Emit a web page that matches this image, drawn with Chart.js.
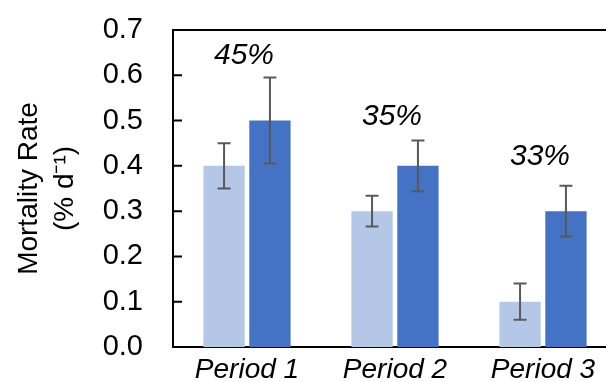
<!DOCTYPE html>
<html>
<head>
  <title>Mortality Rate</title>
  <script src="https://cdn.jsdelivr.net/npm/chart.js"></script>
  <style>
    html, body { margin: 0; padding: 0; background: #fff; overflow: hidden; }
  </style>
</head>
<body>
  <canvas id="chart" width="630" height="382"></canvas>

  <script>
    // data
    const periods = ["Period 1", "Period 2", "Period 3"];
    const lightValues = [0.4, 0.3, 0.1];
    const lightErrors = [0.05, 0.034, 0.04];
    const darkValues = [0.5, 0.4, 0.3];
    const darkErrors = [0.095, 0.056, 0.056];
    const diffLabels = ["45%", "35%", "33%"];
    const diffLabelY = [0.643, 0.508, 0.42];
    const yTicks = [0.0, 0.1, 0.2, 0.3, 0.4, 0.5, 0.6, 0.7];

    const FONT = "'Liberation Sans', Arial, sans-serif";

    // error bars on top of each bar
    const errorBars = {
      id: "errorBars",
      afterDatasetsDraw(chart) {
        const ctx = chart.ctx;
        const y = chart.scales.y;
        const errs = [lightErrors, darkErrors];
        ctx.save();
        ctx.strokeStyle = "#595959";
        ctx.lineWidth = 2;
        chart.data.datasets.forEach((ds, d) => {
          const meta = chart.getDatasetMeta(d);
          meta.data.forEach((bar, j) => {
            const v = ds.data[j], e = errs[d][j];
            const top = y.getPixelForValue(v + e);
            const bot = y.getPixelForValue(v - e);
            ctx.beginPath();
            ctx.moveTo(bar.x, top); ctx.lineTo(bar.x, bot);
            ctx.moveTo(bar.x - 6.5, top); ctx.lineTo(bar.x + 6.5, top);
            ctx.moveTo(bar.x - 6.5, bot); ctx.lineTo(bar.x + 6.5, bot);
            ctx.stroke();
          });
        });
        ctx.restore();
      }
    };

    // top frame line, inside ticks and the percentage labels
    const extras = {
      id: "extras",
      afterDraw(chart) {
        const ctx = chart.ctx;
        const area = chart.chartArea;
        const x = chart.scales.x, y = chart.scales.y;
        ctx.save();
        ctx.strokeStyle = "#000";
        ctx.lineWidth = 2;
        ctx.beginPath();
        ctx.moveTo(area.left - 1, area.top);
        ctx.lineTo(chart.width, area.top);
        yTicks.forEach(v => {
          const py = y.getPixelForValue(v);
          ctx.moveTo(area.left, py);
          ctx.lineTo(area.left + 9, py);
        });
        ctx.stroke();

        ctx.fillStyle = "#000";
        ctx.font = "italic 30px " + FONT;
        ctx.textAlign = "center";
        ctx.textBaseline = "middle";
        diffLabels.forEach((t, i) => {
          ctx.fillText(t, x.getPixelForValue(i) - 3, y.getPixelForValue(diffLabelY[i]));
        });
        ctx.restore();
      }
    };

    new Chart(document.getElementById("chart"), {
      type: "bar",
      data: {
        labels: periods,
        datasets: [
          { label: "A", data: lightValues, backgroundColor: "#b4c7e7" },
          { label: "B", data: darkValues, backgroundColor: "#4472c4" }
        ]
      },
      options: {
        responsive: false,
        animation: false,
        categoryPercentage: 0.62,
        barPercentage: 0.9,
        layout: { padding: { top: 30, right: 13, left: 0, bottom: 0 } },
        plugins: { legend: { display: false }, tooltip: { enabled: false } },
        scales: {
          x: {
            z: 1,
            grid: { display: false, drawTicks: false },
            border: { display: true, color: "#000", width: 2 },
            ticks: {
              color: "#000",
              padding: 6,
              font: { family: FONT, size: 28, style: "italic" }
            },
            afterFit: s => {
              s.height = 35;
              s.paddingLeft = 0;
              s.paddingRight = 0;
            }
          },
          y: {
            z: 1,
            min: 0,
            max: 0.7,
            grid: { display: false, drawTicks: false },
            border: { display: true, color: "#000", width: 2 },
            afterBuildTicks: s => { s.ticks = yTicks.map(v => ({ value: v })); },
            ticks: {
              color: "#000",
              padding: 30,
              font: { family: FONT, size: 29 },
              callback: v => v.toFixed(1)
            },
            title: {
              display: true,
              text: ["Mortality Rate", "(% d\u207B\u00B9)"],
              color: "#000",
              padding: { top: 11, bottom: 0 },
              font: { family: FONT, size: 28, lineHeight: 1.3 }
            },
            afterFit: s => {
              s.width = 173;
              s.paddingTop = 0;
              s.paddingBottom = 0;
            }
          }
        }
      },
      plugins: [errorBars, extras]
    });
  </script>
</body>
</html>
